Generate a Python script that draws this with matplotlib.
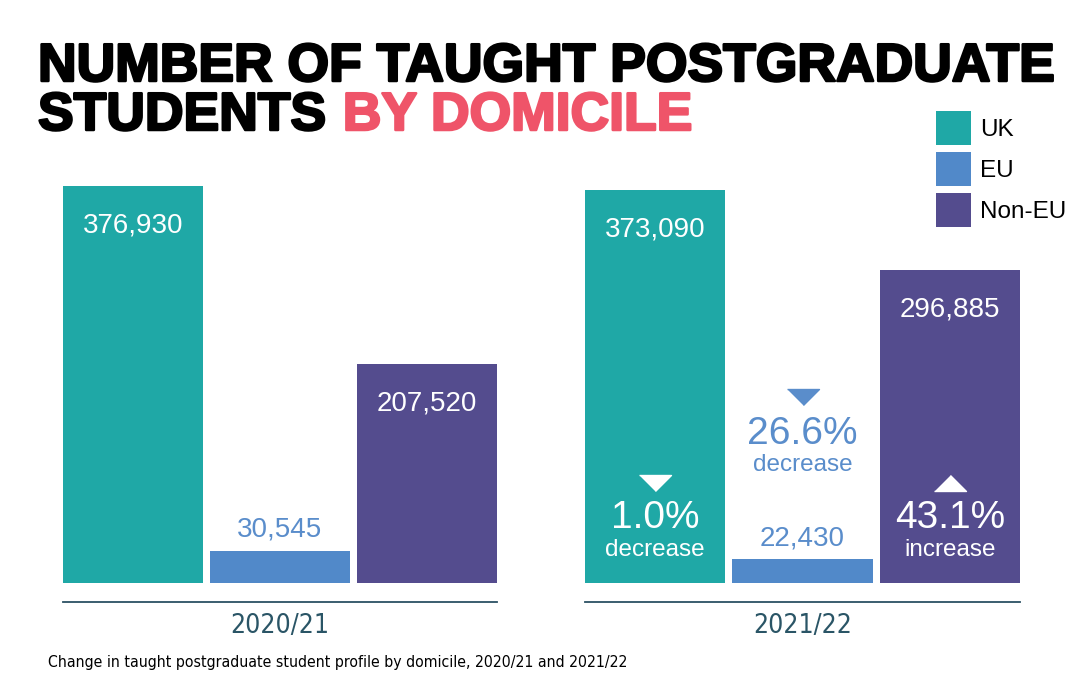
import matplotlib
matplotlib.use('Agg')
import matplotlib.pyplot as plt
from matplotlib import font_manager
from matplotlib.transforms import offset_copy
import matplotlib.patheffects as pe

# data
years = ['2020/21', '2021/22']
domiciles = ['UK', 'EU', 'Non-EU']
students_2020 = [376930, 30545, 207520]
students_2021 = [373090, 22430, 296885]
change_pct = [-1.0, -26.6, 43.1]

colors = ['#1fa8a6', '#5189c9', '#544c8e']
eu_text = '#5a8dcb'
line_col = '#2b5163'
year_col = '#2a5566'
pink = '#ef5469'

plt.rcParams['font.family'] = 'Liberation Sans'

# pick a narrow face for the year labels and caption if one is there
names = {f.name for f in font_manager.fontManager.ttflist}
if 'Liberation Sans Narrow' in names:
    narrow = dict(family='Liberation Sans Narrow')
else:
    narrow = dict(family='DejaVu Sans', stretch='condensed')

W, H = 1086, 693
fig = plt.figure(figsize=(W / 100, H / 100), dpi=100)


def fx(px):
    return px / W


def fy(px):
    return 1 - px / H


# pixels per student, so that the tallest bar is ~397 px high
scale = 397 / max(students_2020)
bar_w = 140 / 147


def px2pt(px):
    return px * 0.72


def draw_panel(left, right, values, year, changes=None):
    ax = fig.add_axes([fx(left), fy(602), (right - left) / W, (602 - 100) / H])
    xs = range(len(values))
    bars = ax.bar(xs, values, width=bar_w, color=colors)
    ax.set_xlim(-bar_w / 2, len(values) - 1 + bar_w / 2)
    ax.set_ylim(-19 / scale, 483 / scale)
    for s in ['top', 'left', 'right']:
        ax.spines[s].set_visible(False)
    ax.spines['bottom'].set_position(('data', -19 / scale))
    ax.spines['bottom'].set_color(line_col)
    ax.spines['bottom'].set_linewidth(1.3)
    ax.set_yticks([])
    ax.set_xticks([1], [year])
    ax.tick_params(axis='x', length=0, pad=8, labelcolor=year_col)
    for lab in ax.get_xticklabels():
        lab.set_fontproperties(font_manager.FontProperties(size=19, **narrow))
    ax.patch.set_alpha(0)

    for i, v in enumerate(values):
        txt = f'{v:,}'
        if domiciles[i] == 'EU':
            ax.annotate(txt, (i, v), xytext=(0, px2pt(21)), textcoords='offset points',
                        ha='center', va='center', fontsize=20, color=eu_text)
        else:
            ax.annotate(txt, (i, v), xytext=(0, -px2pt(39)), textcoords='offset points',
                        ha='center', va='center', fontsize=20, color='white')

    if changes is not None:
        for i, c in enumerate(changes):
            if domiciles[i] == 'EU':
                col, offs = eu_text, (186, 149, 118)
            else:
                col, offs = 'white', (100, 65, 33)
            if c < 0:
                tri = [(-1, 0.5), (1, 0.5), (0, -0.5)]
                word = 'decrease'
            else:
                tri = [(-1, -0.5), (1, -0.5), (0, 0.5)]
                word = 'increase'
            tr = offset_copy(ax.transData, fig=fig, x=0, y=offs[0], units='dots')
            ax.plot([i], [0], marker=tri, markersize=23, color=col,
                    linestyle='none', transform=tr, clip_on=False)
            ax.annotate(f'{abs(c):.1f}%', (i, 0), xytext=(0, px2pt(offs[1])),
                        textcoords='offset points', ha='center', va='center',
                        fontsize=28, color=col)
            ax.annotate(word, (i, 0), xytext=(0, px2pt(offs[2])),
                        textcoords='offset points', ha='center', va='center',
                        fontsize=17.5, color=col)
    return ax, bars


ax1, bars1 = draw_panel(63, 497, students_2020, years[0])
ax2, bars2 = draw_panel(585, 1020, students_2021, years[1], change_pct)

fig.legend(handles=list(bars1), labels=domiciles, loc='upper left',
           bbox_to_anchor=(fx(936), fy(111)), frameon=False, borderpad=0,
           borderaxespad=0, fontsize=17.5, handlelength=1.44, handleheight=1.77,
           handletextpad=0.37, labelspacing=0.29)

# title, sized so the first line spans the page like the original
heavy = [pe.withStroke(linewidth=1.8, foreground='black')]
t1 = fig.text(fx(38), fy(81), 'NUMBER OF TAUGHT POSTGRADUATE', fontsize=40,
              fontweight='bold', va='baseline', path_effects=heavy)
t2 = fig.text(fx(38), fy(130), 'STUDENTS', fontsize=40,
              fontweight='bold', va='baseline', path_effects=heavy)
cap = fig.text(fx(48), fy(663),
               'Change in taught postgraduate student profile by domicile, 2020/21 and 2021/22',
               fontsize=12, va='center', **narrow)
fig.canvas.draw()
r = fig.canvas.get_renderer()
size = 40 * 1016 / t1.get_window_extent(r).width
t1.set_fontsize(size)
t2.set_fontsize(size)
cap.set_fontsize(12 * 577 / cap.get_window_extent(r).width)
fig.canvas.draw()
x_end = t2.get_window_extent(r).x1
fig.text((x_end + 0.3 * size / 0.72) / W, fy(130), 'BY DOMICILE', fontsize=size,
         fontweight='bold', va='baseline', color=pink,
         path_effects=[pe.withStroke(linewidth=1.8, foreground=pink)])

fig.savefig('out.png', dpi=100)
